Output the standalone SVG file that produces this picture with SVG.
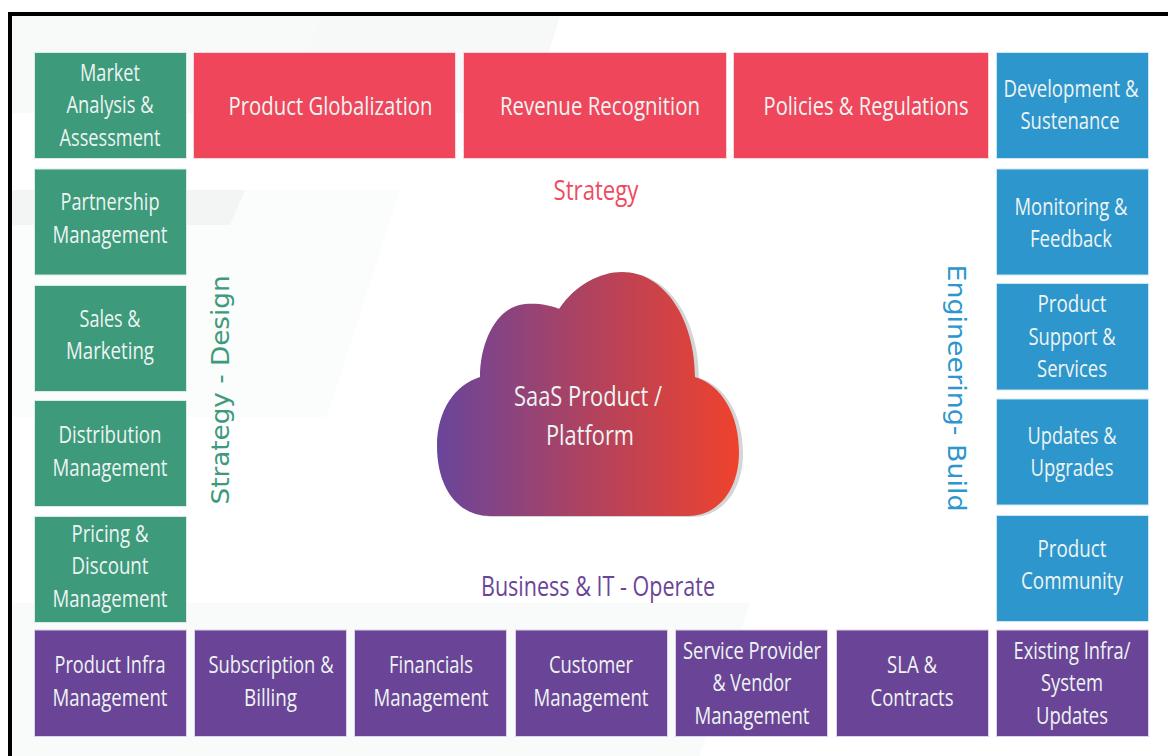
<svg xmlns="http://www.w3.org/2000/svg" width="1168" height="756" viewBox="0 0 1168 756">
<defs>
<linearGradient id="cg" x1="0" y1="0" x2="1" y2="0"><stop offset="0" stop-color="#69459b"/><stop offset="0.5" stop-color="#b0425f"/><stop offset="1" stop-color="#ef422d"/></linearGradient>
<path id="cloud-shape" d="M490 516C458 516 437 488 437 446C437 410 455 385 480 377C480 340 498 306 525 304C538 303 550 305 559 309C575 285 600 272 622 272C665 272 695 320 695 377C722 385 739 415 739 452C739 490 718 516 688 516Z"/>
</defs>
<style>
text{font-family:"Open Sans","Noto Sans","Liberation Sans",sans-serif;text-anchor:middle}
.b{stroke-width:1}
.g{fill:#3d9a7b;stroke:#d8ece5}
.r{fill:#f0465c;stroke:#fbd5da}
.u{fill:#2d96cd;stroke:#cfe7f4}
.p{fill:#6a4597;stroke:#dcd2ea}
.t{fill:#eef4f2;font-size:23px}
.h{font-size:26px}
.c{font-size:27px}
</style>
<rect width="1168" height="756" fill="#fff"/>
<g id="background">
<polygon points="12,16 320,16 282,113 12,113" fill="#f8f9f9"/>
<polygon points="320,16 560,16 530,113 282,113" fill="#f7f8f8"/>
<polygon points="12,190 400,190 327,417 12,417" fill="#fbfcfc"/>
<polygon points="12,190 245,190 230,225 12,225" fill="#f3f5f5"/>
<polygon points="12,603 750,603 700,756 12,756" fill="#f9fbfb"/>
</g>
<path d="M8 756V12H1168V16H12V756Z" fill="#000"/>
<g id="connectors"/>
<g id="market"><rect class="b g" x="34.5" y="52.5" width="152" height="106"/><text class="t" x="110" y="81" textLength="60" lengthAdjust="spacingAndGlyphs">Market</text><text class="t" x="110" y="113" textLength="87" lengthAdjust="spacingAndGlyphs">Analysis &amp;</text><text class="t" x="110" y="146" textLength="101" lengthAdjust="spacingAndGlyphs">Assessment</text></g>
<g id="partnership"><rect class="b g" x="34.5" y="169" width="152" height="106"/><text class="t" x="110" y="210" textLength="99" lengthAdjust="spacingAndGlyphs">Partnership</text><text class="t" x="110" y="243" textLength="115" lengthAdjust="spacingAndGlyphs">Management</text></g>
<g id="sales"><rect class="b g" x="34.5" y="285.5" width="152" height="106"/><text class="t" x="110" y="327" textLength="61" lengthAdjust="spacingAndGlyphs">Sales &amp;</text><text class="t" x="110" y="359" textLength="88" lengthAdjust="spacingAndGlyphs">Marketing</text></g>
<g id="distribution"><rect class="b g" x="34.5" y="400.5" width="152" height="106"/><text class="t" x="110" y="443" textLength="103" lengthAdjust="spacingAndGlyphs">Distribution</text><text class="t" x="110" y="476" textLength="115" lengthAdjust="spacingAndGlyphs">Management</text></g>
<g id="pricing"><rect class="b g" x="34.5" y="516.5" width="152" height="106"/><text class="t" x="110" y="542" textLength="77" lengthAdjust="spacingAndGlyphs">Pricing &amp;</text><text class="t" x="110" y="574" textLength="77" lengthAdjust="spacingAndGlyphs">Discount</text><text class="t" x="110" y="607" textLength="115" lengthAdjust="spacingAndGlyphs">Management</text></g>
<g id="globalization"><rect class="b r" x="193.5" y="52.5" width="262" height="106"/><text class="t h" x="330.5" y="115" textLength="204" lengthAdjust="spacingAndGlyphs">Product Globalization</text></g>
<g id="revenue"><rect class="b r" x="463.5" y="52.5" width="263" height="106"/><text class="t h" x="600" y="115" textLength="200" lengthAdjust="spacingAndGlyphs">Revenue Recognition</text></g>
<g id="policies"><rect class="b r" x="733.5" y="52.5" width="255" height="106"/><text class="t h" x="866" y="115" textLength="205" lengthAdjust="spacingAndGlyphs">Policies &amp; Regulations</text></g>
<g id="development"><rect class="b u" x="996.5" y="52.5" width="152" height="106"/><text class="t" x="1071" y="97" textLength="135" lengthAdjust="spacingAndGlyphs">Development &amp;</text><text class="t" x="1070" y="129" textLength="99" lengthAdjust="spacingAndGlyphs">Sustenance</text></g>
<g id="monitoring"><rect class="b u" x="996.5" y="169" width="152" height="106"/><text class="t" x="1071" y="215" textLength="113" lengthAdjust="spacingAndGlyphs">Monitoring &amp;</text><text class="t" x="1071" y="247" textLength="82" lengthAdjust="spacingAndGlyphs">Feedback</text></g>
<g id="support"><rect class="b u" x="996.5" y="283.5" width="152" height="106.500"/><text class="t" x="1072" y="312" textLength="69" lengthAdjust="spacingAndGlyphs">Product</text><text class="t" x="1072" y="345" textLength="87" lengthAdjust="spacingAndGlyphs">Support &amp;</text><text class="t" x="1072" y="377" textLength="70" lengthAdjust="spacingAndGlyphs">Services</text></g>
<g id="updates"><rect class="b u" x="996.5" y="399" width="152" height="106"/><text class="t" x="1072" y="444" textLength="89" lengthAdjust="spacingAndGlyphs">Updates &amp;</text><text class="t" x="1072" y="476" textLength="83" lengthAdjust="spacingAndGlyphs">Upgrades</text></g>
<g id="community"><rect class="b u" x="996.5" y="515.5" width="152" height="106"/><text class="t" x="1072" y="557" textLength="69" lengthAdjust="spacingAndGlyphs">Product</text><text class="t" x="1072" y="589" textLength="102" lengthAdjust="spacingAndGlyphs">Community</text></g>
<g id="infra"><rect class="b p" x="34.5" y="630" width="152" height="106.500"/><text class="t" x="110" y="673" textLength="111" lengthAdjust="spacingAndGlyphs">Product Infra</text><text class="t" x="110" y="706" textLength="115" lengthAdjust="spacingAndGlyphs">Management</text></g>
<g id="subscription"><rect class="b p" x="194.500" y="630" width="152" height="106.500"/><text class="t" x="271" y="673" textLength="125" lengthAdjust="spacingAndGlyphs">Subscription &amp;</text><text class="t" x="270.500" y="706" textLength="53" lengthAdjust="spacingAndGlyphs">Billing</text></g>
<g id="financials"><rect class="b p" x="354.500" y="630" width="152" height="106.500"/><text class="t" x="431" y="673" textLength="84" lengthAdjust="spacingAndGlyphs">Financials</text><text class="t" x="431" y="706" textLength="115" lengthAdjust="spacingAndGlyphs">Management</text></g>
<g id="customer"><rect class="b p" x="515.500" y="630" width="152" height="106.500"/><text class="t" x="591" y="673" textLength="84" lengthAdjust="spacingAndGlyphs">Customer</text><text class="t" x="591" y="706" textLength="115" lengthAdjust="spacingAndGlyphs">Management</text></g>
<g id="provider"><rect class="b p" x="675.500" y="630" width="152" height="106.500"/><text class="t" x="752" y="659" textLength="138" lengthAdjust="spacingAndGlyphs">Service Provider</text><text class="t" x="752" y="691" textLength="79" lengthAdjust="spacingAndGlyphs">&amp; Vendor</text><text class="t" x="752" y="724" textLength="115" lengthAdjust="spacingAndGlyphs">Management</text></g>
<g id="sla"><rect class="b p" x="836.500" y="630" width="152" height="106.500"/><text class="t" x="912" y="673" textLength="50" lengthAdjust="spacingAndGlyphs">SLA &amp;</text><text class="t" x="912" y="706" textLength="83" lengthAdjust="spacingAndGlyphs">Contracts</text></g>
<g id="existing"><rect class="b p" x="996.500" y="630" width="152" height="106.500"/><text class="t" x="1072" y="659" textLength="117" lengthAdjust="spacingAndGlyphs">Existing Infra/</text><text class="t" x="1072" y="691" textLength="62" lengthAdjust="spacingAndGlyphs">System</text><text class="t" x="1072" y="724" textLength="72" lengthAdjust="spacingAndGlyphs">Updates</text></g>
<g id="cloud">
<use href="#cloud-shape" transform="translate(4 1)" fill="#d3d6d7"/>
<use href="#cloud-shape" fill="url(#cg)"/>
<text class="t c" x="588" y="406" textLength="148" lengthAdjust="spacingAndGlyphs">SaaS Product /</text>
<text class="t c" x="590" y="445" textLength="88" lengthAdjust="spacingAndGlyphs">Platform</text>
</g>
<g id="labels">
<text x="596" y="200" fill="#ef4a5f" font-size="27" textLength="85" lengthAdjust="spacingAndGlyphs">Strategy</text>
<text x="598" y="596" fill="#6a4597" font-size="27" textLength="234" lengthAdjust="spacingAndGlyphs">Business &amp; IT - Operate</text>
<text transform="translate(229 390) rotate(-90)" fill="#3d9a7b" font-size="24" textLength="229" lengthAdjust="spacingAndGlyphs" style="font-family:'DejaVu Sans',sans-serif">Strategy - Design</text>
<text transform="translate(948 388) rotate(90)" fill="#2d96cd" font-size="24" textLength="247" lengthAdjust="spacingAndGlyphs" style="font-family:'DejaVu Sans',sans-serif">Engineering- Build</text>
</g>
</svg>
